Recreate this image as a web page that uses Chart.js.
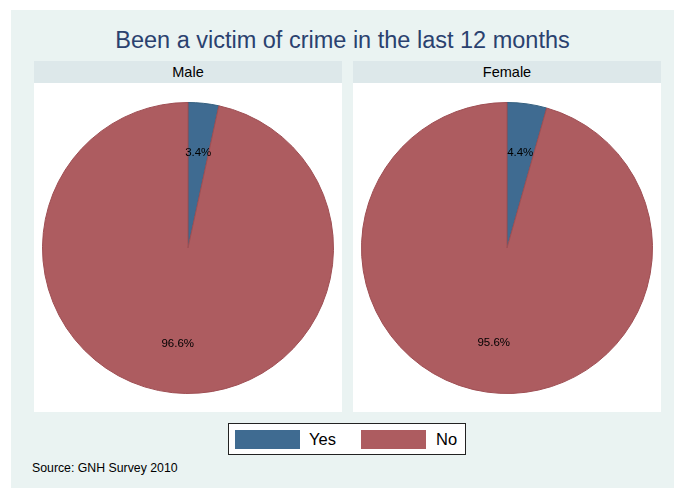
<!DOCTYPE html>
<html>
<head>
<meta charset="utf-8">
<script src="https://cdn.jsdelivr.net/npm/chart.js@4/dist/chart.umd.min.js"></script>
<style>
  html, body { margin: 0; padding: 0; background: #ffffff; }
  body { width: 674px; height: 491px; position: relative; overflow: hidden;
         font-family: "Liberation Sans", Arial, Helvetica, sans-serif; }
  #frame { position: absolute; left: 11px; top: 10px; width: 663px; height: 478px; background: #EAF3F2; }
  #title { position: absolute; left: 11px; width: 663px; top: 26px; text-align: center;
           font-size: 23.5px; line-height: 28px; color: #2A416F; }
  .panel { position: absolute; top: 61px; width: 308px; height: 351px; background: #ffffff; }
  .head { position: absolute; left: 0; top: 0; width: 100%; height: 22px; background: #DDE8EA;
          text-align: center; font-size: 14.5px; line-height: 22px; color: #000; }
  .pie { position: absolute; width: 292px; height: 292px; }
  #legend { position: absolute; left: 228px; top: 423px; width: 236px; height: 30px;
            background: #ffffff; border: 1px solid #222; }
  .sw { position: absolute; top: 6px; width: 65px; height: 19px; }
  .lt { position: absolute; top: 5px; font-size: 16.5px; color: #000; line-height: 20px; }
  #source { position: absolute; left: 32px; top: 461px; font-size: 12.3px; color: #000; }
</style>
</head>
<body>
<div id="frame"></div>
<div id="title"></div>
<div class="panel" id="p0" style="left:34px"><div class="head"></div></div>
<div class="panel" id="p1" style="left:353px"><div class="head"></div></div>
<div class="pie" style="left:42px; top:102px"><canvas id="c0"></canvas></div>
<div class="pie" style="left:361px; top:102px"><canvas id="c1"></canvas></div>
<div id="legend"></div>
<div id="source"></div>
<script>
// Survey answers by sex (percent of respondents)
const titleText = 'Been a victim of crime in the last 12 months';
const sourceText = 'Source: GNH Survey 2010';
const categories = ['Yes', 'No'];
const panels = ['Male', 'Female'];
const maleValues = [3.4, 96.6];
const femaleValues = [4.4, 95.6];

const fillColors = ['#3F6B91', '#AD5C60'];
const edgeColors = ['#35607F', '#9E4E53'];

document.getElementById('title').textContent = titleText;
document.getElementById('source').textContent = sourceText;
document.querySelectorAll('.panel .head').forEach((h, i) => { h.textContent = panels[i]; });

// legend row built from the categories
const legend = document.getElementById('legend');
const swatchX = [6, 132];
const textX = [80, 207];
categories.forEach((c, i) => {
  const s = document.createElement('div');
  s.className = 'sw';
  s.style.left = swatchX[i] + 'px';
  s.style.background = fillColors[i];
  legend.appendChild(s);
  const t = document.createElement('div');
  t.className = 'lt';
  t.style.left = textX[i] + 'px';
  t.textContent = c;
  legend.appendChild(t);
});

// percent labels placed on each slice's mid-angle, inside the pie
const sliceLabels = {
  id: 'sliceLabels',
  afterDatasetsDraw(chart) {
    const ctx = chart.ctx;
    const meta = chart.getDatasetMeta(0);
    const data = chart.data.datasets[0].data;
    ctx.save();
    ctx.font = '11.5px "Liberation Sans", Arial, sans-serif';
    ctx.fillStyle = '#000';
    ctx.textAlign = 'center';
    ctx.textBaseline = 'middle';
    meta.data.forEach((arc, i) => {
      const p = arc.getProps(['x', 'y', 'startAngle', 'endAngle', 'outerRadius'], true);
      const mid = (p.startAngle + p.endAngle) / 2;
      const r = p.outerRadius * 0.66;
      ctx.fillText(data[i].toFixed(1) + '%', p.x + Math.cos(mid) * r, p.y + Math.sin(mid) * r);
    });
    ctx.restore();
  }
};

function makePie(id, values) {
  return new Chart(document.getElementById(id), {
    type: 'pie',
    data: {
      labels: categories,
      datasets: [{
        data: values,
        backgroundColor: fillColors,
        borderColor: edgeColors,
        borderWidth: 1
      }]
    },
    options: {
      responsive: true,
      maintainAspectRatio: false,
      animation: false,
      layout: { padding: 0 },
      plugins: { legend: { display: false }, tooltip: { enabled: false }, title: { display: false } }
    },
    plugins: [sliceLabels]
  });
}

makePie('c0', maleValues);
makePie('c1', femaleValues);
</script>
</body>
</html>
